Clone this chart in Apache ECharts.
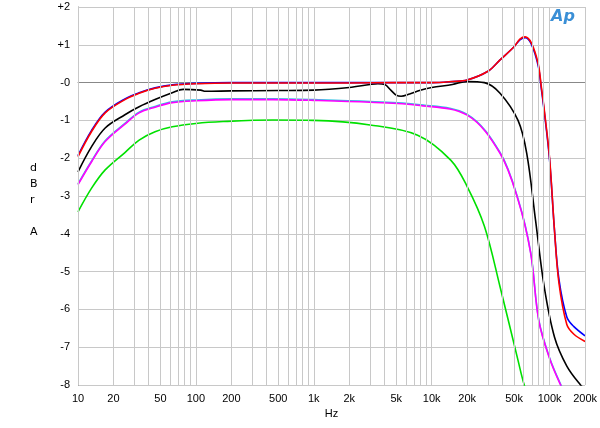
<!DOCTYPE html>
<html><head><meta charset="utf-8">
<script src="https://cdn.jsdelivr.net/npm/echarts@6/dist/echarts.min.js"></script>
<style>html,body{margin:0;padding:0;background:#fff}#c{width:600px;height:428px}</style>
</head><body><div id="c"></div>
<script>
const redF  = [10,13,17,25,33,45,63,100,200,500,1000,2000,5000,10000,15000,20000,30000,38000,50000,56000,62000,70000,80000,85000,90000,100000,110000,120000,140000,160000,200000];
const redV  = [-1.96,-1.3,-0.8,-0.45,-0.28,-0.15,-0.07,-0.03,-0.01,-0.01,-0.01,-0.01,0,0,0.03,0.07,0.3,0.6,0.95,1.15,1.21,1.05,0.5,-0.1,-0.7,-2.0,-3.9,-5.3,-6.4,-6.65,-6.85];
const blueV = [-1.93,-1.27,-0.78,-0.43,-0.27,-0.14,-0.06,-0.02,0,0,0,0,0,0,0.03,0.07,0.3,0.6,0.95,1.13,1.19,1.02,0.45,-0.15,-0.75,-2.05,-3.9,-5.2,-6.2,-6.45,-6.7];
const blackF = [10,13,17,25,33,45,63,78,110,120,200,500,1000,2000,3000,3500,4000,4500,5000,5500,6500,8000,10000,15000,20000,28000,38000,54000,64000,76000,90000,110000,140000,183000,200000];
const blackV = [-2.36,-1.7,-1.2,-0.85,-0.64,-0.45,-0.27,-0.18,-0.2,-0.23,-0.22,-0.21,-0.2,-0.13,-0.05,-0.03,-0.05,-0.2,-0.33,-0.36,-0.3,-0.2,-0.13,-0.05,0.03,0,-0.28,-1.0,-1.87,-3.64,-5.4,-6.73,-7.5,-8.0,-8.1];
const magF = [10,13,17,25,33,45,63,100,200,450,1000,3000,7600,20000,38000,54000,69000,81000,100000,124000,150000];
const magV = [-2.7,-2.1,-1.56,-1.1,-0.8,-0.65,-0.53,-0.48,-0.45,-0.45,-0.47,-0.52,-0.6,-0.86,-1.87,-3.1,-4.5,-6.3,-7.3,-8.0,-8.5];
const greenF = [10,13,17,25,33,45,63,100,170,450,1000,3000,7600,14500,20000,28000,38000,54000,61000,70000];
const greenV = [-3.42,-2.8,-2.31,-1.85,-1.52,-1.3,-1.17,-1.08,-1.03,-0.99,-1.0,-1.12,-1.39,-2.05,-2.75,-3.8,-5.4,-7.35,-8.0,-8.5];
const gridFreqs = [];
for (let d=10; d<=100000; d*=10) for (let m=1;m<=9;m++){ const f=d*m; if(f<=200000) gridFreqs.push(f);}
const labelFreqs = [10,20,50,100,200,500,1000,2000,5000,10000,20000,50000,100000,200000];
const lg = Math.log10;
function fmtF(v){const f=Math.round(Math.pow(10,v));return f>=1000?(f/1000)+'k':''+f;}
function mk(name,fs,vals,color){return {name,type:'line',showSymbol:false,smooth:0.35,clip:true,
  lineStyle:{width:1.6,color},itemStyle:{color},data:fs.map((f,i)=>[lg(f),vals[i]])};}
const chart = echarts.init(document.getElementById('c'));
chart.setOption({
  animation:false,
  grid:{left:78,right:11,top:7,bottom:43},
  graphic:[{type:'text',left:551,top:9,style:{text:'Ap',fontSize:16,fontStyle:'italic',fontWeight:'bold',fill:'#3a8fd6',fontFamily:'DejaVu Sans'}},
    {type:'text',left:30,top:160,style:{text:'d\nB\nr\n\nA',fontSize:11,lineHeight:16,fill:'#000',fontFamily:'DejaVu Sans'}}],
  xAxis:{type:'value',min:1,max:lg(200000),name:'Hz',nameLocation:'middle',nameGap:23,nameTextStyle:{fontSize:11,color:'#000'},
    axisLine:{lineStyle:{color:'#888'}},axisTick:{show:false},splitLine:{show:false},
    axisLabel:{customValues:labelFreqs.map(lg),formatter:fmtF,fontSize:11,color:'#000'}},
  yAxis:{type:'value',min:-8,max:2,interval:1,axisLine:{show:true,lineStyle:{color:'#888'}},axisTick:{show:false},
    splitLine:{lineStyle:{color:'#c8c8c8'}},
    axisLabel:{formatter:v=>v>0?'+'+v:(v===0?'-0':''+v),fontSize:11,color:'#000'}},
  series:[
    {type:'line',data:[],silent:true,markLine:{silent:true,symbol:'none',label:{show:false},
      lineStyle:{color:'#c8c8c8',type:'solid',width:1},data:gridFreqs.map(f=>({xAxis:lg(f)}))}},
    mk('green',greenF,greenV,'#00e000'),mk('cyan',magF,magV.map(v=>v+0.02),'#30c0e0'),mk('magenta',magF,magV,'#ff00ff'),
    mk('black',blackF,blackV,'#000000'),mk('blue',redF,blueV,'#0000ff'),mk('red',redF,redV,'#ff0000')
  ]
});
</script></body></html>
